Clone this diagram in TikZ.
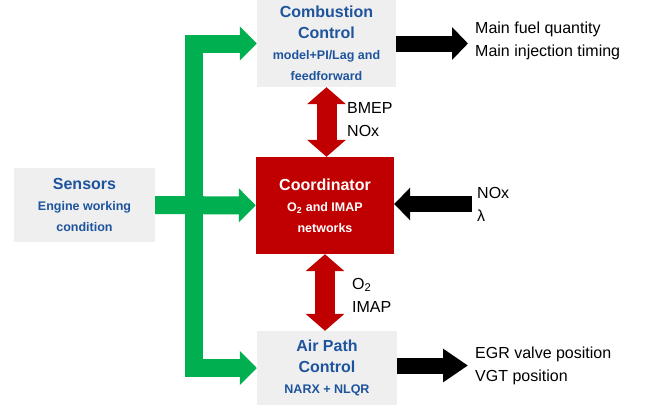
\documentclass[tikz,border=0pt]{standalone}
\usepackage{fontspec}
\setmainfont{Liberation Sans}
\usepackage{xcolor}
\usepackage{tikz}
\usetikzlibrary{arrows.meta, positioning, calc}
\definecolor{boxGray}{RGB}{239, 239, 239}
\definecolor{ctrlBlue}{RGB}{30, 84, 158}
\definecolor{coordRed}{RGB}{192, 0, 0}
\definecolor{sensGreen}{RGB}{0, 176, 80}
\newcommand{\boxtitle}{\fontsize{16}{21}\selectfont\bfseries}
\newcommand{\boxsub}{\fontsize{12.5}{21}\selectfont\bfseries}
\newcommand{\sigtxt}{\fontsize{16}{23}\selectfont}

\begin{document}
\begin{tikzpicture}[
    x=1pt, y=-1pt,
    ctrlbox/.style={rectangle, fill=boxGray, text=ctrlBlue, align=center, inner sep=0pt, font=\boxsub},
    coordbox/.style={rectangle, fill=coordRed, text=white, align=center, inner sep=0pt, font=\boxsub},
    signal/.style={anchor=west, align=left, inner sep=0pt, font=\sigtxt},
    garrow/.style={draw=sensGreen, line width=18pt, line join=miter, -{Triangle[length=17pt, width=33pt]}},
    rarrow/.style={draw=coordRed, line width=20pt, {Triangle[length=17pt, width=38pt]}-{Triangle[length=17pt, width=38pt]}},
    barrow/.style={draw=black, line width=16pt, -{Triangle[length=#1, width=32pt]}},
    barrow/.default=16pt
]
\useasboundingbox (0,0) rectangle (649,407);

% Controllers
\node[ctrlbox, minimum width=139pt, minimum height=87pt] (comb) at (326.5,43.5)
    {\boxtitle Combustion\\\boxtitle Control\\\boxsub model+PI/Lag and\\\boxsub feedforward};
\node[coordbox, minimum width=138pt, minimum height=97pt] (coord) at (325,205.5)
    {\boxtitle Coordinator\\\boxsub O\textsubscript{2} and IMAP\\\boxsub networks};
\node[ctrlbox, minimum width=140pt, minimum height=74pt] (air) at (327,368)
    {\boxtitle Air Path\\\boxtitle Control\\\boxsub NARX + NLQR};

% Sensors
\node[ctrlbox, minimum width=141pt, minimum height=74pt] (sensors) at (84.5,205)
    {\boxtitle Sensors\\\boxsub Engine working\\\boxsub condition};
\coordinate (gsplit) at (194,205);

% Signals
\node[signal] (fuel) at (475,40.5) {Main fuel quantity\\Main injection timing};
\node[signal] (meas) at (477,204) {NOx\\λ};
\node[signal] (egr) at (475,365.5) {EGR valve position\\VGT position};
\node[signal] (upper) at (347,120) {BMEP\\NOx};
\node[signal] (lower) at (352,295) {O\textsubscript{2}\\IMAP};

% Arrows
\draw[garrow] (sensors) -- (coord);
\draw[garrow, {Triangle[length=17pt, width=33pt]}-{Triangle[length=17pt, width=33pt]}] (comb.west) -| (gsplit) |- (air.west);
\draw[rarrow] (comb.south) -- (comb.south |- coord.north);
\draw[rarrow] (coord.south) -- (coord.south |- air.north);
\draw[barrow, shorten >=7pt] (comb.east) -- (comb.east -| fuel.west);
\draw[barrow, shorten <=5pt] (meas.west) -- (meas.west -| coord.east);
\draw[barrow=25pt, shorten >=7pt] (egr.west -| air.east) -- (egr.west);

\end{tikzpicture}
\end{document}
